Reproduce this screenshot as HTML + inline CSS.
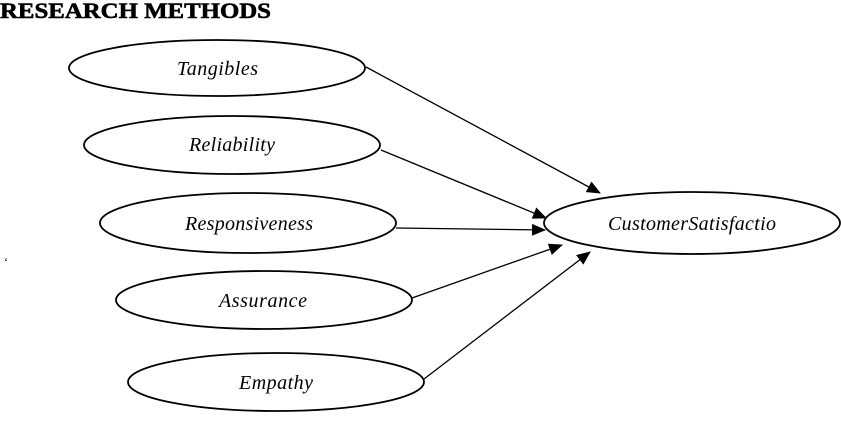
<!DOCTYPE html>
<html><head><meta charset="utf-8"><style>
html,body{margin:0;padding:0;background:#fff;width:841px;height:421px;overflow:hidden}
svg{display:block}
</style></head><body>
<svg width="841" height="421" viewBox="0 0 841 421" xmlns="http://www.w3.org/2000/svg">
<defs><marker id="a" markerWidth="14" markerHeight="12" refX="13" refY="6" orient="auto" markerUnits="userSpaceOnUse"><path d="M0,0 L14,6 L0,12 z" fill="#000"/></marker></defs>
<text x="0" y="18" font-family="Liberation Serif, serif" font-weight="bold" font-size="22" stroke="#000" stroke-width="0.6" textLength="271" lengthAdjust="spacingAndGlyphs">RESEARCH METHODS</text>
<g fill="none" stroke="#000" stroke-width="1.8">
<ellipse cx="217" cy="68" rx="148" ry="28"/>
<ellipse cx="232" cy="145" rx="148" ry="29"/>
<ellipse cx="248" cy="223" rx="148" ry="30"/>
<ellipse cx="264" cy="300" rx="148" ry="29"/>
<ellipse cx="276" cy="382" rx="148" ry="29"/>
<ellipse cx="692" cy="223" rx="148" ry="31"/>
</g>
<g stroke="#000" stroke-width="1.3" marker-end="url(#a)">
<line x1="366" y1="67" x2="600" y2="193"/>
<line x1="381" y1="150" x2="546" y2="218"/>
<line x1="396" y1="228" x2="545" y2="230"/>
<line x1="412" y1="298" x2="562" y2="245"/>
<line x1="424" y1="379" x2="590" y2="252"/>
</g>
<g font-family="Liberation Serif, serif" font-style="italic" font-size="20" lengthAdjust="spacingAndGlyphs">
<text x="177" y="75" textLength="81">Tangibles</text>
<text x="189" y="151" textLength="86">Reliability</text>
<text x="185" y="230" textLength="128">Responsiveness</text>
<text x="219" y="307" textLength="88">Assurance</text>
<text x="239" y="389" textLength="74">Empathy</text>
<text x="608" y="230" textLength="168">CustomerSatisfactio</text>
</g>
<text x="4" y="266" font-family="Liberation Serif, serif" font-size="12">‘</text>
</svg>
</body></html>
